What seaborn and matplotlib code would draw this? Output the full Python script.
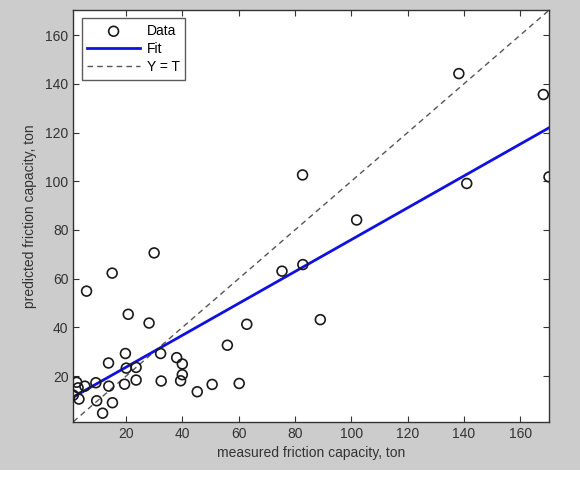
import matplotlib
matplotlib.use("Agg")
import matplotlib.pyplot as plt
import numpy as np
import pandas as pd
import seaborn as sns
from matplotlib.patches import Rectangle

# measured vs predicted friction capacity (ton)
measured = [1.3, 3.3, 2.5, 3.0, 5.4, 9.3, 9.6, 11.7, 15.2, 13.9,
            13.8, 19.8, 20.1, 23.6, 23.6, 19.5, 20.8, 28.2, 32.3, 32.5,
            38.0, 40.0, 40.0, 39.4, 45.3, 50.6, 60.2, 56.0, 62.9, 6.0,
            15.1, 30.0, 75.4, 82.8, 89.0, 82.7, 101.9, 138.2, 168.2, 141.0,
            170.2]
predicted = [12.2, 10.6, 17.5, 15.2, 15.9, 17.3, 9.9, 4.8, 9.1, 15.9,
             25.4, 29.3, 23.3, 23.6, 18.4, 16.7, 45.4, 41.8, 29.3, 18.0,
             27.6, 25.0, 20.6, 18.1, 13.6, 16.6, 17.0, 32.7, 41.3, 54.9,
             62.3, 70.6, 63.1, 65.8, 43.2, 102.6, 84.1, 144.2, 135.6, 99.1,
             101.8]
xticks = [20, 40, 60, 80, 100, 120, 140, 160]
yticks = [20, 40, 60, 80, 100, 120, 140, 160]
lims = [1.3, 170.3]

df = pd.DataFrame({'measured': measured, 'predicted': predicted})
slope, icpt = np.polyfit(df['measured'], df['predicted'], 1)
fit = pd.DataFrame({'x': lims, 'y': [icpt + slope * v for v in lims]})
ident = pd.DataFrame({'x': lims, 'y': lims})

plt.rcParams['font.family'] = ['Liberation Sans', 'DejaVu Sans']
fig = plt.figure(figsize=(5.8, 4.84), dpi=100, facecolor='white')
fig.patches.append(Rectangle((0, 14 / 484), 1, 1, transform=fig.transFigure,
                             facecolor='#cccccc', edgecolor='none', zorder=-10))
ax = fig.add_axes([0.1264, 0.1287, 0.8206, 0.8506])
ax.set_facecolor('white')

sns.scatterplot(data=df, x='measured', y='predicted', ax=ax, marker='o',
                s=50, facecolor='none', edgecolor='#1a1a1a', linewidth=1.2,
                label='Data', zorder=3)
sns.lineplot(data=fit, x='x', y='y', ax=ax, color='#1010e0', linewidth=2,
             label='Fit', zorder=2)
sns.lineplot(data=ident, x='x', y='y', ax=ax, color='#555555', linewidth=1,
             linestyle=(0, (4, 3)), label='Y = T', zorder=1)

ax.set_xlim(lims)
ax.set_ylim(lims)
ax.set_xticks(xticks)
ax.set_yticks(yticks)
ax.tick_params(direction='in', top=True, right=True, length=4, width=0.8,
               labelsize=10, labelcolor='#333333', color='#333333')
for s in ax.spines.values():
    s.set_color('#333333')
    s.set_linewidth(1)
ax.set_xlabel('measured friction capacity, ton', fontsize=10, color='#333333', labelpad=4)
ax.set_ylabel('predicted friction capacity, ton', fontsize=10, color='#333333', labelpad=6)

leg = ax.legend(loc='upper left', fontsize=10, frameon=True, fancybox=False,
                edgecolor='#333333', borderaxespad=0.6, handlelength=3.8,
                handletextpad=0.5, labelspacing=0.3, borderpad=0.4)
leg.get_frame().set_linewidth(1)

fig.savefig('out.png', dpi=100, facecolor=fig.get_facecolor())
